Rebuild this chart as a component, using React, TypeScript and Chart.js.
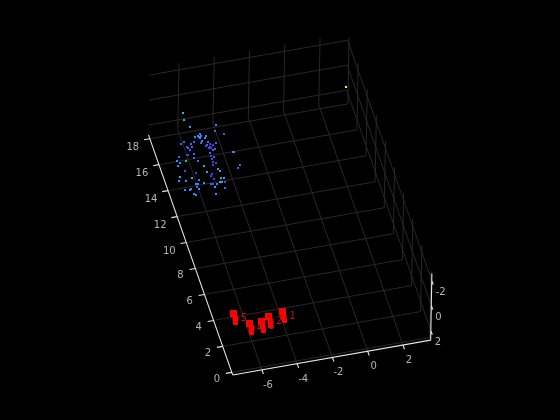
import React, { useEffect, useRef } from "react";
import { Chart, registerables } from "chart.js";

Chart.register(...registerables);

const xTicks = [-6, -4, -2, 0, 2];
const yTicks = [0, 2, 4, 6, 8, 10, 12, 14, 16, 18];
const zTicks = [-2, 0, 2];

const xLimits = [-7.66, 3.57];
const yLimits = [-0.2, 18.3];
const zLimits = [-2.55, 2.78];

const cloudX = [
  -6.16, -6.24, -6.1, -4.62, -4.79, -4.38, -5.65, -5.79, -5.63, -5.76, -5.72, -6.02, -5.36,
  -5.45, -5.67, -5.76, -6.12, -6.65, -6.85, -6.32, -5.37, -5.48, -5.3, -5.16, -4.98, -6.59,
  -6.32, -6.55, -6.48, -5.55, -5.36, -5.43, -5.34, -5.25, -5.14, -6.34, -5.49, -5.47, -6.74,
  -6.68, -4.24, -4.18, -7.2, -6.42, -6.26, -5.35, -5.49, -7.39, -6.9, -7.26, -7.43, -5.5,
  -5.34, -5.55, -6.03, -4.11, -4.27, -5.36, -5.99, -5.29, -7.14, -6.59, -5.77, -5.85, -7.52,
  -6.9, -5.37, -5.21, -5.76, -6.56, -7.65, -7.28, -5.5, -5.39, -5.23, -6.8, -6.69, -6.37,
  -6.0, -5.91, -5.69, -5.86, -5.34, -6.8, -6.75, -7.23, -7.5, -7.16, -7.1, -7.01, -5.94,
];
const cloudY = [
  16.58, 16.06, 15.49, 15.3, 14.88, 14.48, 14.85, 14.73, 14.69, 14.64, 14.56, 14.7, 14.63,
  14.5, 14.32, 14.18, 14.34, 14.47, 14.36, 14.24, 14.17, 13.97, 14.0, 13.89, 13.93, 14.07,
  14.01, 13.98, 13.81, 13.91, 13.78, 13.72, 13.63, 13.53, 13.51, 13.47, 13.28, 13.12, 13.49,
  13.48, 13.07, 13.05, 13.44, 13.19, 12.92, 12.94, 12.82, 13.18, 13.07, 13.0, 12.8, 12.59,
  12.55, 12.37, 12.48, 12.04, 11.85, 12.02, 12.01, 11.85, 12.36, 12.07, 11.73, 11.67, 11.98,
  11.76, 11.33, 11.3, 11.35, 11.53, 11.71, 11.62, 11.06, 11.03, 10.99, 11.28, 11.25, 11.18,
  11.09, 11.0, 10.95, 10.76, 10.56, 11.05, 10.81, 10.92, 10.98, 10.98, 10.58, 10.48, 10.24,
];
const cloudShade = [
  4, 4, 3, 2, 1, 1, 2, 2, 2, 2, 2, 2, 2, 2, 2, 1, 1, 1, 1, 1, 1, 1, 0, 0, 1, 0, 1, 1, 1, 0,
  0, 0, 0, 1, 1, 1, 1, 0, 0, 0, 2, 2, 1, 1, 1, 1, 0, 2, 5, 2, 2, 0, 0, 0, 4, 1, 1, 3, 3, 3,
  0, 0, 0, 0, 4, 3, 3, 3, 0, 2, 2, 2, 3, 3, 0, 2, 2, 2, 1, 0, 2, 3, 1, 1, 2, 2, 2, 2, 2, 2, 2,
];
const cloudZ = -0.4;
const shadePalette = ["#4a3cf0", "#3d62ff", "#2f8cff", "#1eaaf0", "#14bcd4", "#18cf98"];

const outlierX = [3.03];
const outlierY = [16.38];
const outlierZ = -0.42;

const markerX = [
  -7.27, -7.28, -7.33, -6.61, -6.62, -6.67, -5.95, -5.96, -6.01, -5.45, -5.46, -5.51, -4.64,
  -4.65, -4.7,
];
const markerY = [
  1.4, 1.02, 0.72, 0.45, 0.07, -0.23, 0.43, 0.05, -0.25, 0.7, 0.32, 0.02, 0.9, 0.52, 0.22,
];
const markerPart = [0, 1, 2, 0, 1, 2, 0, 1, 2, 0, 1, 2, 0, 1, 2];
const markerZ = -0.44;
const markerNames = ["5", "4", "3", "2", "1"];

type P = { x: number; y: number };

function project(x: number, y: number, z: number): P {
  return {
    x: 367.44 + 17.63 * x - 4.55 * y - 0.23 * z,
    y: 313.85 - 3.1 * x - 12.98 * y + 12.5 * z,
  };
}
const snapped = (p: P): P => ({ x: Math.round(p.x), y: Math.round(p.y) });
const snappedHalf = (p: P): P => ({ x: Math.round(p.x) + 0.5, y: Math.round(p.y) + 0.5 });
const gap: P = { x: NaN, y: NaN };

function segments(list: [number, number, number][][]): P[] {
  const out: P[] = [];
  list.forEach((s) => {
    s.forEach((a) => out.push(project(a[0], a[1], a[2])));
    out.push(gap);
  });
  return out;
}

const [xMin, xMax] = xLimits;
const [yMin, yMax] = yLimits;
const [zMin, zMax] = zLimits;
const tickLen = 0.33;

const gridSegs: [number, number, number][][] = [];
xTicks.forEach((x) => {
  gridSegs.push([[x, yMin, zMax], [x, yMax, zMax]]);
  gridSegs.push([[x, yMax, zMax], [x, yMax, zMin]]);
});
yTicks.forEach((y) => {
  gridSegs.push([[xMin, y, zMax], [xMax, y, zMax]]);
  gridSegs.push([[xMax, y, zMax], [xMax, y, zMin]]);
});
zTicks.forEach((z) => {
  gridSegs.push([[xMin, yMax, z], [xMax, yMax, z]]);
  gridSegs.push([[xMax, yMax, z], [xMax, yMin, z]]);
});

const axisSegs: [number, number, number][][] = [
  [[xMin, yMin, zMax], [xMax, yMin, zMax]],
  [[xMin, yMin, zMax], [xMin, yMax, zMax]],
  [[xMax, yMin, zMax], [xMax, yMin, zMin]],
];
xTicks.forEach((x) => axisSegs.push([[x, yMin, zMax], [x, yMin - tickLen, zMax]]));
yTicks.forEach((y) => axisSegs.push([[xMin, y, zMax], [xMin - 0.33, y, zMax]]));
zTicks.forEach((z) => axisSegs.push([[xMax, yMin, z], [xMax, yMin - tickLen, z]]));

const labelsPlugin = {
  id: "labels3d",
  beforeDraw(chart: any) {
    const { ctx, width, height } = chart;
    ctx.save();
    ctx.fillStyle = "#000";
    ctx.fillRect(0, 0, width, height);
    ctx.restore();
  },
  afterDatasetsDraw(chart: any) {
    const { ctx, scales } = chart;
    const put = (p: P, dx: number, dy: number, text: string, align: CanvasTextAlign, color: string) => {
      ctx.textAlign = align;
      ctx.fillStyle = color;
      ctx.fillText(text, scales.x.getPixelForValue(p.x) + dx, scales.y.getPixelForValue(p.y) + dy);
    };
    ctx.save();
    ctx.font = '10px "DejaVu Sans"';
    ctx.textBaseline = "middle";
    const grey = "#b4b4b4";
    xTicks.forEach((x) => put(project(x, yMin, zMax), 6, 15.5, String(x), "center", grey));
    yTicks.forEach((y) =>
      put(project(xMin, y, zMax), y >= 10 ? -17 : -14.8, y >= 10 ? 8.5 : 6.8, String(y), "center", grey)
    );
    zTicks.forEach((z) => put(project(xMax, yMin, z), 4, 12, String(z), "left", grey));
    markerNames.forEach((name, i) => {
      const k = i * 3;
      put(project(markerX[k], markerY[k], markerZ), 11, 5.4, name, "center", "#b01818");
    });
    ctx.restore();
  },
};

export default function App() {
  const ref = useRef<HTMLCanvasElement | null>(null);
  useEffect(() => {
    document.body.style.margin = "0";
    document.body.style.background = "#000";
    const chart = new Chart(ref.current as HTMLCanvasElement, {
      type: "scatter",
      plugins: [labelsPlugin],
      data: {
        datasets: [
          {
            label: "markers",
            data: markerX.map((x, i) => snappedHalf(project(x, markerY[i], markerZ))),
            pointStyle: "rect",
            pointRadius: markerPart.map((k) => (k === 0 ? 2.83 : k === 1 ? 3.54 : 2.83)),
            pointBorderWidth: markerPart.map((k) => (k === 0 ? 3 : 1)),
            pointBorderColor: "#ff0000",
            pointBackgroundColor: markerPart.map((k) => (k === 0 ? "#4a0000" : "#ff0000")),
            order: 0,
          },
          {
            label: "cloud",
            data: cloudX.map((x, i) => snapped(project(x, cloudY[i], cloudZ))),
            pointStyle: "rect",
            pointRadius: 1.42,
            pointBorderWidth: 0,
            pointBackgroundColor: cloudShade.map((s) => shadePalette[s]),
            order: 1,
          },
          {
            label: "outlier",
            data: outlierX.map((x, i) => snapped(project(x, outlierY[i], outlierZ))),
            pointStyle: "rect",
            pointRadius: 1.42,
            pointBorderWidth: 0,
            pointBackgroundColor: "#ffff00",
            order: 2,
          },
          {
            label: "axes",
            data: segments(axisSegs),
            showLine: true,
            spanGaps: false,
            pointRadius: 0,
            borderColor: "#e6e6e6",
            borderWidth: 1.1,
            order: 3,
          },
          {
            label: "grid",
            data: segments(gridSegs),
            showLine: true,
            spanGaps: false,
            pointRadius: 0,
            borderColor: "#282828",
            borderWidth: 1,
            order: 4,
          },
        ],
      } as any,
      options: {
        animation: false,
        responsive: false,
        layout: { padding: 0, autoPadding: false },
        plugins: { legend: { display: false }, tooltip: { enabled: false } },
        scales: {
          x: { type: "linear", display: false, min: 0, max: 560 },
          y: { type: "linear", display: false, min: 0, max: 420, reverse: true },
        },
      },
    });
    return () => chart.destroy();
  }, []);
  return (
    <canvas
      ref={ref}
      width={560}
      height={420}
      style={{ position: "absolute", left: 0, top: 0, width: 560, height: 420, display: "block" }}
    />
  );
}
